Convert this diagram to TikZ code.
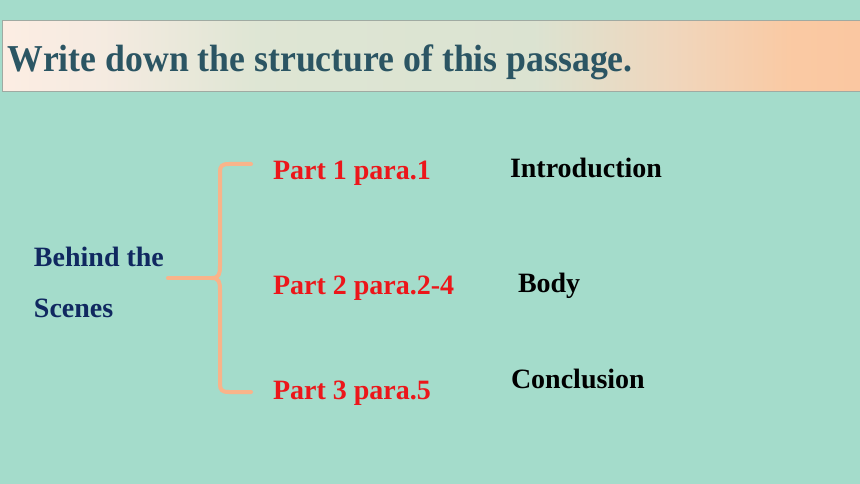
\documentclass[tikz,border=0pt]{standalone}
\usepackage{fontspec}
\setmainfont{Liberation Serif}
\usetikzlibrary{positioning}
\pgfdeclarehorizontalshading{bannershade}{100bp}{rgb(0bp)=(0.99,0.93,0.89); rgb(25bp)=(0.99,0.93,0.89); rgb(31bp)=(0.96,0.92,0.88); rgb(40bp)=(0.87,0.90,0.83); rgb(56bp)=(0.86,0.89,0.82); rgb(64bp)=(0.94,0.84,0.74); rgb(71bp)=(0.98,0.79,0.64); rgb(75bp)=(0.98,0.78,0.63); rgb(100bp)=(0.98,0.78,0.63)}
\begin{document}
\begin{tikzpicture}[x=1pt,y=-1pt,line cap=rect,
  lbl/.style={inner sep=0, outer sep=0, anchor=base west, font=\fontsize{28pt}{28pt}\bfseries\selectfont},
  partlbl/.style={lbl, custcol_red},
  sectlbl/.style={lbl, black},
  brace/.style={line width=4.0pt, custcol_peach, line cap=round}]
\definecolor{custcol_bg}{RGB}{164, 220, 203}
\definecolor{custcol_frame}{RGB}{160, 170, 162}
\definecolor{custcol_slate}{RGB}{43, 85, 99}
\definecolor{custcol_navy}{RGB}{16, 40, 96}
\definecolor{custcol_red}{RGB}{236, 22, 26}
\definecolor{custcol_peach}{RGB}{249, 180, 138}
\useasboundingbox (0.0,0.0) rectangle (860.0,484.0);
\fill [custcol_bg] (0.0,0.0) rectangle (860.0,484.0);
% title banner
\shade [shading=bannershade] (2.0,21.0) rectangle (860.0,92.0);
\draw [line width=1.0pt, custcol_frame] (2.0,21.0) rectangle (866.0,92.0);
\node[inner sep=0, outer sep=0, anchor=base west, xscale=0.94, custcol_slate, font=\fontsize{38pt}{38pt}\bfseries\selectfont] (title) at (8.0,72.0) {Write down the structure of this passage.};
% left label
\node[lbl, custcol_navy] (behind) at (34.0,266.0) {Behind the};
\node[lbl, custcol_navy] (scenes) at (34.0,317.0) {Scenes};
% parts
\node[partlbl] (part1) at (273.0,180.0) {Part 1 para.1};
\node[partlbl] (part2) at (273.0,294.0) {Part 2 para.2-4};
\node[partlbl] (part3) at (273.0,399.0) {Part 3 para.5};
\node[sectlbl] (intro) at (510.0,178.0) {Introduction};
\node[sectlbl] (body) at (518.0,292.0) {Body};
\node[sectlbl] (concl) at (511.0,388.0) {Conclusion};
% brace
\coordinate (stub) at (168.0,278.0);
\coordinate (tip) at (212.0,278.0);
\coordinate (top) at (251.0,164.0);
\coordinate (bot) at (251.0,392.0);
\draw [brace] (stub) -- (tip);
\draw [brace] (tip) .. controls (219.0,278.0) and (220.0,274.0) .. (220.0,266.0) -- (220.0,172.0) .. controls (220.0,166.0) and (222.0,164.0) .. (229.0,164.0) -- (top);
\draw [brace] (tip) .. controls (219.0,278.0) and (220.0,282.0) .. (220.0,290.0) -- (220.0,384.0) .. controls (220.0,390.0) and (222.0,392.0) .. (229.0,392.0) -- (bot);
\end{tikzpicture}
\end{document}
